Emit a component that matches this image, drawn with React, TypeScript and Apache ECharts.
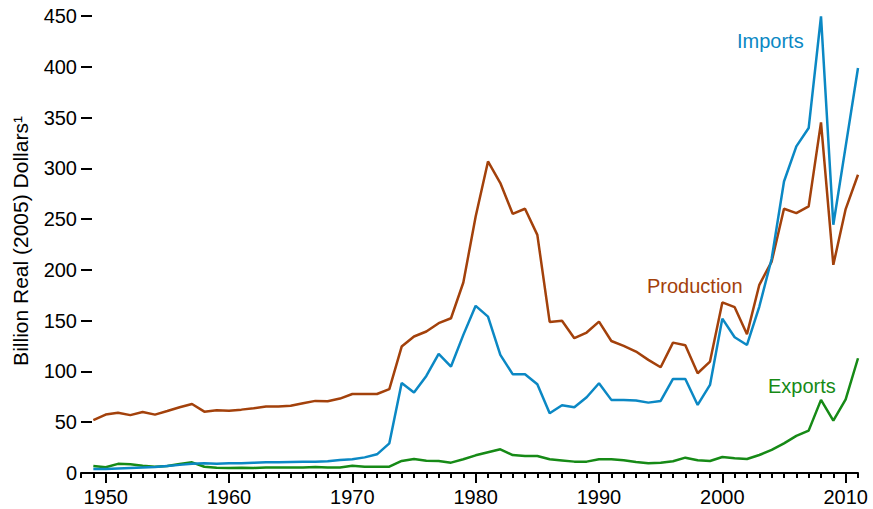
import React, { useEffect, useRef } from "react";
import * as echarts from "echarts";

const years: number[] = [];
for (let y = 1949; y <= 2011; y++) years.push(y);

const production = [
  52, 57.5, 59.4, 57, 60, 57.5, 61, 64.7, 68, 60.4, 61.8, 61.4, 62.4,
  63.7, 65.4, 65.4, 66.3, 68.7, 71, 70.6, 73.3, 77.8, 77.8, 77.8, 82.6,
  124.5, 134.4, 139.3, 147.5, 152.4, 187.6, 252.6, 306.8, 285.5, 255.2,
  260.2, 234.5, 148.8, 150, 132.7, 138.3, 149.1, 130, 125.2, 119.6, 111.4,
  104.1, 128.4, 125.8, 98.2, 109.7, 168, 163.3, 136.7, 185.3, 208.2,
  260.2, 255.9, 262.5, 345.2, 205, 259.9, 293.7,
];

const imports = [
  4, 4, 4.5, 5, 5.5, 6, 7, 8, 9, 9.5, 9, 9.5, 9.5,
  10, 10.5, 10.5, 10.8, 11, 11, 11.5, 12.8, 13.5, 15.4, 18.4, 29.2,
  88.6, 79.2, 95.6, 117.3, 104.8, 136, 164.6, 154, 116.3, 97.3,
  97.3, 87.4, 58.8, 66.7, 64.7, 74.6, 88.4, 72, 72, 71.3, 69.3,
  71, 92.6, 92.6, 67, 86.7, 152, 133.7, 126.1, 163.9, 211,
  287, 321.6, 339.7, 449.7, 244.4, 321.6, 398.8,
];

const exportsData = [
  6.9, 5.6, 9, 8.5, 7.2, 6.2, 7, 8.9, 10.5, 6.2, 5.2, 5, 5.2,
  5, 5.5, 5.5, 5.5, 5.5, 6, 5.5, 5.5, 7.2, 6.2, 6.2, 6.2,
  11.9, 13.8, 12.1, 11.8, 10.2, 13.5, 17.4, 20.4, 23.3, 17.7,
  16.8, 16.8, 13.5, 12.4, 11.2, 11.2, 13.5, 13.5, 12.5, 10.8, 9.5,
  10.2, 11.5, 15.1, 12.5, 11.8, 15.7, 14.5, 13.8, 17.7, 22.7,
  29.2, 36.5, 41.7, 72, 51.5, 72.6, 113,
];

const decadeTicks = [1950, 1960, 1970, 1980, 1990, 2000, 2010];
const yTitle = "Billion Real (2005) Dollars\u00b9";

const COLORS = {
  imports: "#0b88c4",
  production: "#a3410b",
  exports: "#168a16",
};

const FONT = "'Liberation Sans', Arial, Helvetica, sans-serif";

export default function App() {
  const ref = useRef<HTMLDivElement>(null);

  useEffect(() => {
    if (!ref.current) return;
    const chart = echarts.init(ref.current, null, { renderer: "svg" });
    const pairs = (vals: number[]) => years.map((y, i) => [y, vals[i]]);
    const lineSeries = (name: string, vals: number[], color: string) => ({
      name,
      type: "line",
      xAxisIndex: 0,
      data: pairs(vals),
      showSymbol: false,
      symbol: "none",
      lineStyle: { color, width: 2.5 },
      itemStyle: { color },
      z: 3,
    });
    chart.setOption({
      animation: false,
      backgroundColor: "#ffffff",
      textStyle: { fontFamily: FONT },
      grid: {
        left: 81,
        right: 15,
        top: 16,
        bottom: 36,
        containLabel: false,
        outerBoundsMode: "none",
      },
      xAxis: [
        {
          type: "value",
          min: 1948,
          max: 2011,
          interval: 1,
          axisLine: { show: true, lineStyle: { color: "#000", width: 2 } },
          axisTick: { show: true, length: 5, lineStyle: { color: "#000", width: 2 } },
          axisLabel: { show: false },
          splitLine: { show: false },
        },
        {
          type: "value",
          min: 1948,
          max: 2011,
          position: "bottom",
          axisLine: { show: false },
          axisTick: {
            show: true,
            customValues: decadeTicks,
            length: 10,
            lineStyle: { color: "#000", width: 2 },
          },
          axisLabel: {
            show: true,
            customValues: decadeTicks,
            formatter: (v: number) => String(v),
            fontSize: 20,
            color: "#000",
            fontFamily: FONT,
            margin: 14,
          },
          splitLine: { show: false },
        },
      ],
      yAxis: {
        type: "value",
        min: 0,
        max: 450,
        interval: 50,
        axisLine: { show: false },
        axisTick: { show: true, inside: true, length: 11, lineStyle: { color: "#000", width: 2 } },
        axisLabel: {
          fontSize: 20,
          color: "#000",
          fontFamily: FONT,
          margin: 4,
          formatter: (v: number) => String(v),
        },
        splitLine: { show: false },
      },
      graphic: [
        {
          type: "text",
          x: 20,
          y: 241,
          rotation: Math.PI / 2,
          style: {
            text: yTitle,
            fill: "#000",
            font: `21px ${FONT}`,
            align: "center",
            verticalAlign: "middle",
          },
        },
        {
          type: "text",
          left: 737,
          top: 31,
          style: { text: "Imports", fill: COLORS.imports, font: `20px ${FONT}` },
        },
        {
          type: "text",
          left: 647,
          top: 276,
          style: { text: "Production", fill: COLORS.production, font: `20px ${FONT}` },
        },
        {
          type: "text",
          left: 768,
          top: 376,
          style: { text: "Exports", fill: COLORS.exports, font: `20px ${FONT}` },
        },
      ],
      series: [
        lineSeries("Exports", exportsData, COLORS.exports),
        lineSeries("Production", production, COLORS.production),
        lineSeries("Imports", imports, COLORS.imports),
      ],
    });
    return () => chart.dispose();
  }, []);

  return (
    <div
      ref={ref}
      style={{ position: "absolute", left: 0, top: 0, width: 873, height: 509 }}
    />
  );
}
